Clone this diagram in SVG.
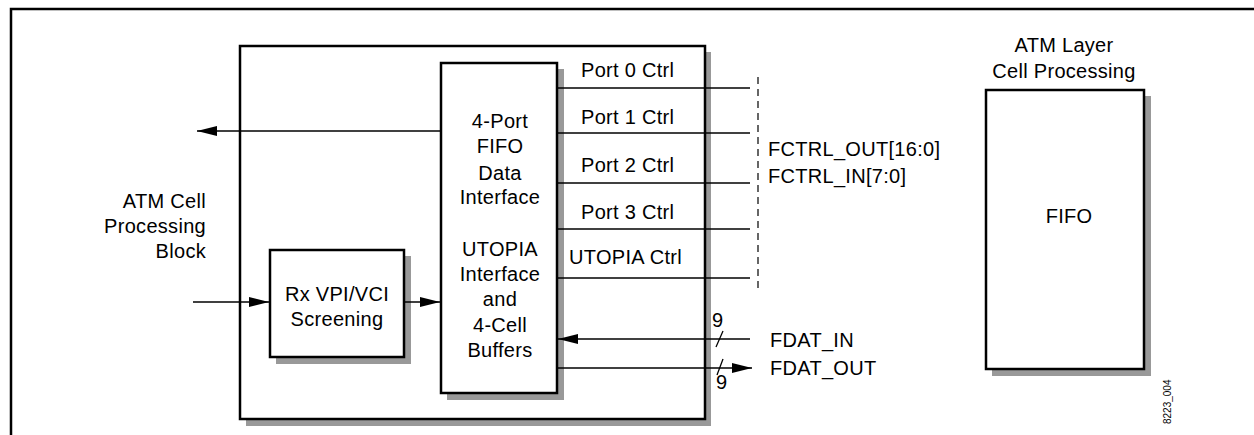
<svg xmlns="http://www.w3.org/2000/svg" width="1254" height="435" viewBox="0 0 1254 435">
<style>
text{font-family:"Liberation Sans",Arial,sans-serif;font-size:20px;letter-spacing:0.3px;fill:#000}
.m{text-anchor:middle}
.e{text-anchor:end}
.box{fill:#fff;stroke:#000;stroke-width:2.5}
.ln{stroke:#000;stroke-width:1.3;fill:none}
</style>
<defs>
<marker id="ah" viewBox="0 0 20 10" refX="20" refY="5" markerWidth="20" markerHeight="10" markerUnits="userSpaceOnUse" orient="auto">
<path d="M0,0 L20,5 L0,10 Z" fill="#000"/>
</marker>
</defs>
<rect width="1254" height="435" fill="#fff"/>
<path d="M11,436 V9 H1254" fill="none" stroke="#000" stroke-width="2.5"/>

<g id="atm-block">
<rect x="246" y="52" width="465" height="374" fill="#999"/>
<rect class="box" x="240" y="46" width="465" height="373"/>
</g>

<g id="block-label">
<text class="e" x="206" y="208">ATM Cell</text>
<text class="e" x="206" y="233">Processing</text>
<text class="e" x="206" y="258">Block</text>
</g>

<g id="rx-screening">
<rect x="276" y="256" width="135" height="108" fill="#999"/>
<rect class="box" x="270" y="250" width="134" height="107"/>
<text class="m" x="337" y="301">Rx VPI/VCI</text>
<text class="m" x="337" y="326">Screening</text>
</g>

<g id="fifo-interface">
<rect x="447" y="69" width="117" height="331" fill="#999"/>
<rect class="box" x="441" y="63" width="116" height="330"/>
<text class="m" x="500" y="128">4-Port</text>
<text class="m" x="500" y="153">FIFO</text>
<text class="m" x="500" y="180">Data</text>
<text class="m" x="500" y="204">Interface</text>
<text class="m" x="500" y="256">UTOPIA</text>
<text class="m" x="500" y="281">Interface</text>
<text class="m" x="500" y="306">and</text>
<text class="m" x="500" y="332">4-Cell</text>
<text class="m" x="500" y="357">Buffers</text>
</g>

<g id="atm-layer">
<rect x="992" y="96" width="159" height="280" fill="#999"/>
<rect class="box" x="986" y="90" width="158" height="279"/>
<text class="m" x="1069" y="223">FIFO</text>
<text class="m" x="1064" y="52">ATM Layer</text>
<text class="m" x="1064" y="78">Cell Processing</text>
</g>

<g id="connectors">
<line class="ln" x1="441" y1="131" x2="197" y2="131" marker-end="url(#ah)"/>
<line class="ln" x1="193" y1="302" x2="269" y2="302" marker-end="url(#ah)"/>
<line class="ln" x1="404" y1="302" x2="440" y2="302" marker-end="url(#ah)"/>
<line class="ln" x1="557" y1="88" x2="750" y2="88"/>
<line class="ln" x1="557" y1="133" x2="750" y2="133"/>
<line class="ln" x1="557" y1="183" x2="750" y2="183"/>
<line class="ln" x1="557" y1="229" x2="750" y2="229"/>
<line class="ln" x1="557" y1="278" x2="750" y2="278"/>
<line x1="758" y1="77" x2="758" y2="290" stroke="#000" stroke-width="1.2" stroke-dasharray="7,5"/>
<line class="ln" x1="750" y1="339" x2="558" y2="339" marker-end="url(#ah)"/>
<line class="ln" x1="557" y1="368" x2="752" y2="368" marker-end="url(#ah)"/>
<line class="ln" x1="716" y1="347" x2="723" y2="331"/>
<line class="ln" x1="717" y1="375" x2="723" y2="359"/>
</g>

<g id="labels">
<text x="581" y="77">Port 0 Ctrl</text>
<text x="581" y="124">Port 1 Ctrl</text>
<text x="581" y="172">Port 2 Ctrl</text>
<text x="581" y="219">Port 3 Ctrl</text>
<text x="569" y="264">UTOPIA Ctrl</text>
<text x="768" y="156">FCTRL_OUT[16:0]</text>
<text x="768" y="183">FCTRL_IN[7:0]</text>
<text x="770" y="347">FDAT_IN</text>
<text x="770" y="375">FDAT_OUT</text>
<text x="712" y="327">9</text>
<text x="716" y="389">9</text>
<text x="1171" y="424" transform="rotate(-90 1171 424)" style="font-size:10px;letter-spacing:0">8223_004</text>
</g>
</svg>
